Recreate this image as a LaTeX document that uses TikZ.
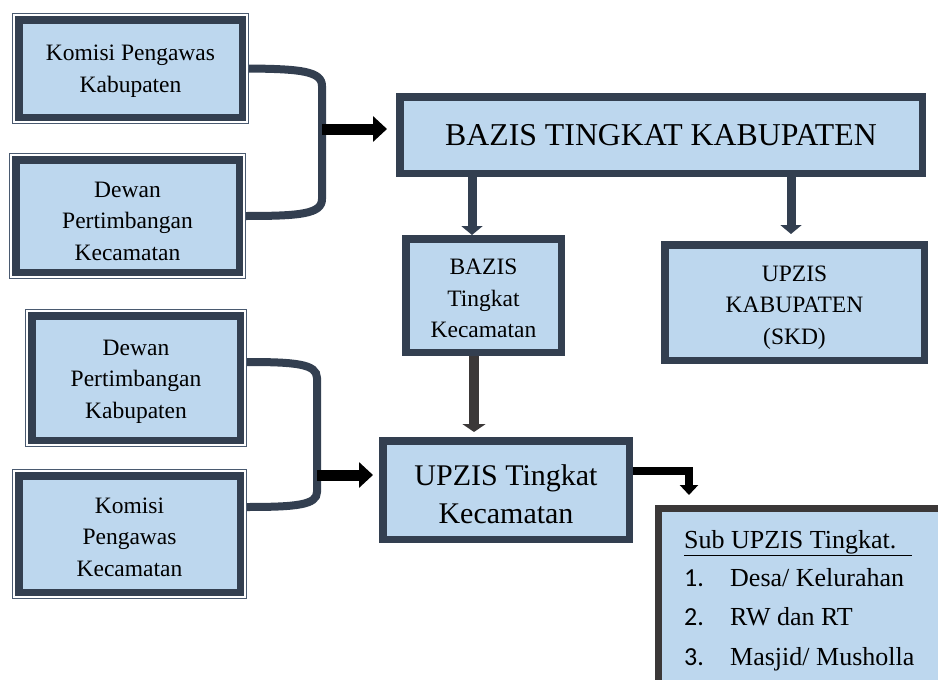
\documentclass[tikz,border=0pt]{standalone}
\usepackage{fontspec}
\setmainfont{LiberationSerif}[Extension=.ttf, UprightFont=*-Regular, BoldFont=*-Bold, ItalicFont=*-Italic, BoldItalicFont=*-BoldItalic]
\newfontfamily\numfont{Carlito}
\newcommand\toppad[1]{\rule{0pt}{#1}}
\usetikzlibrary{arrows.meta,fit,calc}
\definecolor{bfill}{HTML}{BDD7EE}
\definecolor{bdark}{HTML}{333F50}
\definecolor{gdark}{HTML}{3B3838}
\definecolor{framec}{HTML}{4A5A70}
\begin{document}
\begin{tikzpicture}[x=1pt,y=-1pt,
  box/.style={draw=bdark, line width=7.5pt, fill=bfill, inner sep=0pt, align=center, text=black,
    font=\rmfamily\fontsize{23.5}{31.5}\selectfont},
  frame/.style={draw=framec, line width=1pt, inner sep=2.5pt},
  bracket/.style={draw=bdark, line width=8pt},
  barrow/.style={draw=black, line width=11pt, -{Triangle[width=25pt,length=14pt]}},
  darrow/.style={draw=bdark, line width=9pt, -{Triangle[width=21pt,length=9pt]}},
  garrow/.style={draw=gdark, line width=10pt, -{Triangle[width=23pt,length=8pt]}},
  earrow/.style={draw=black, line width=8pt, -{Triangle[width=18pt,length=10pt]}},
  subtxt/.style={anchor=base west, inner sep=0pt, font=\rmfamily\fontsize{26}{30}\selectfont}
]
\useasboundingbox (0,0) rectangle (938,680);
\clip (0,0) rectangle (938,680);

% left boxes
\node[box, minimum width=223.5pt, minimum height=97.5pt] (b1) at (130.5,68.5) {\toppad{21pt}Komisi Pengawas\\Kabupaten};
\node[frame, fit=(b1)] (f1) {};
\node[box, minimum width=223.5pt, minimum height=112.5pt] (b2) at (127.5,216) {\toppad{26pt}Dewan\\Pertimbangan\\Kecamatan};
\node[frame, fit=(b2)] (f2) {};
\node[box, minimum width=208.5pt, minimum height=124.5pt] (b3) at (136,378) {\toppad{22pt}Dewan\\Pertimbangan\\Kabupaten};
\node[frame, fit=(b3)] (f3) {};
\node[box, minimum width=221.5pt, minimum height=116.5pt] (b4) at (129.5,534) {\toppad{22pt}Komisi\\Pengawas\\Kecamatan};
\node[frame, fit=(b4)] (f4) {};

% main boxes
\node[box, minimum width=522.5pt, minimum height=76.5pt, font=\rmfamily\fontsize{31.8}{36}\selectfont] (bk) at (661,135) {BAZIS TINGKAT KABUPATEN};
\node[box, minimum width=155.5pt, minimum height=113.5pt] (bc) at (483.5,295.5) {\toppad{22pt}BAZIS\\Tingkat\\Kecamatan};
\node[box, minimum width=259.5pt, minimum height=115.5pt] (uk) at (794.5,302.5) {\toppad{25.5pt}UPZIS\\KABUPATEN\\(SKD)};
\node[box, minimum width=246.5pt, minimum height=98.5pt, font=\rmfamily\fontsize{30}{38}\selectfont] (uc) at (506,490) {\toppad{29pt}UPZIS Tingkat\\Kecamatan};
\node[box, draw=gdark, line width=7pt, minimum width=298pt, minimum height=188pt] (sub) at (807.5,602.5) {};

% sub box text
\node[subtxt] (s0) at (684,548) {\underline{Sub UPZIS Tingkat.\hspace{16pt}}};
\node[subtxt] (n1) at (684,586) {\numfont 1.};
\node[subtxt] (t1) at (730,586) {Desa/ Kelurahan};
\node[subtxt] (n2) at (684,625) {\numfont 2.};
\node[subtxt] (t2) at (730,625) {RW dan RT};
\node[subtxt] (n3) at (684,665) {\numfont 3.};
\node[subtxt] (t3) at (730,665) {Masjid/ Musholla};

% brackets
\coordinate (j1) at (322,129);
\coordinate (j2) at (317,475);
\draw[bracket] (f1.east) .. controls (300,69) and (322,71) .. (322,86) -- (322,199)
  .. controls (322,214) and (300,216) .. (f2.east);
\draw[bracket] ([yshift=16pt]f3.east) .. controls (296,362) and (317,364) .. (317,378) -- (317,492)
  .. controls (317,505) and (296,507) .. ([yshift=27pt]f4.east);

% horizontal black arrows
\draw[barrow, shorten >=9pt] (j1) -- (j1 -| bk.west);
\draw[barrow, shorten >=6pt] (j2) -- (j2 -| uc.west);

% down arrows
\coordinate (x1) at (472,0);
\coordinate (x2) at (791,0);
\coordinate (x3) at (474,0);
\draw[darrow] (bk.south -| x1) -- (bc.north -| x1);
\draw[darrow, shorten >=7pt] (bk.south -| x2) -- (uk.north -| x2);
\draw[garrow, shorten >=5pt] (bc.south -| x3) -- (uc.north -| x3);

% elbow arrow
\coordinate (eb) at (689,495);
\draw[earrow] ([yshift=19pt]uc.east) -| (eb);
\end{tikzpicture}
\end{document}
